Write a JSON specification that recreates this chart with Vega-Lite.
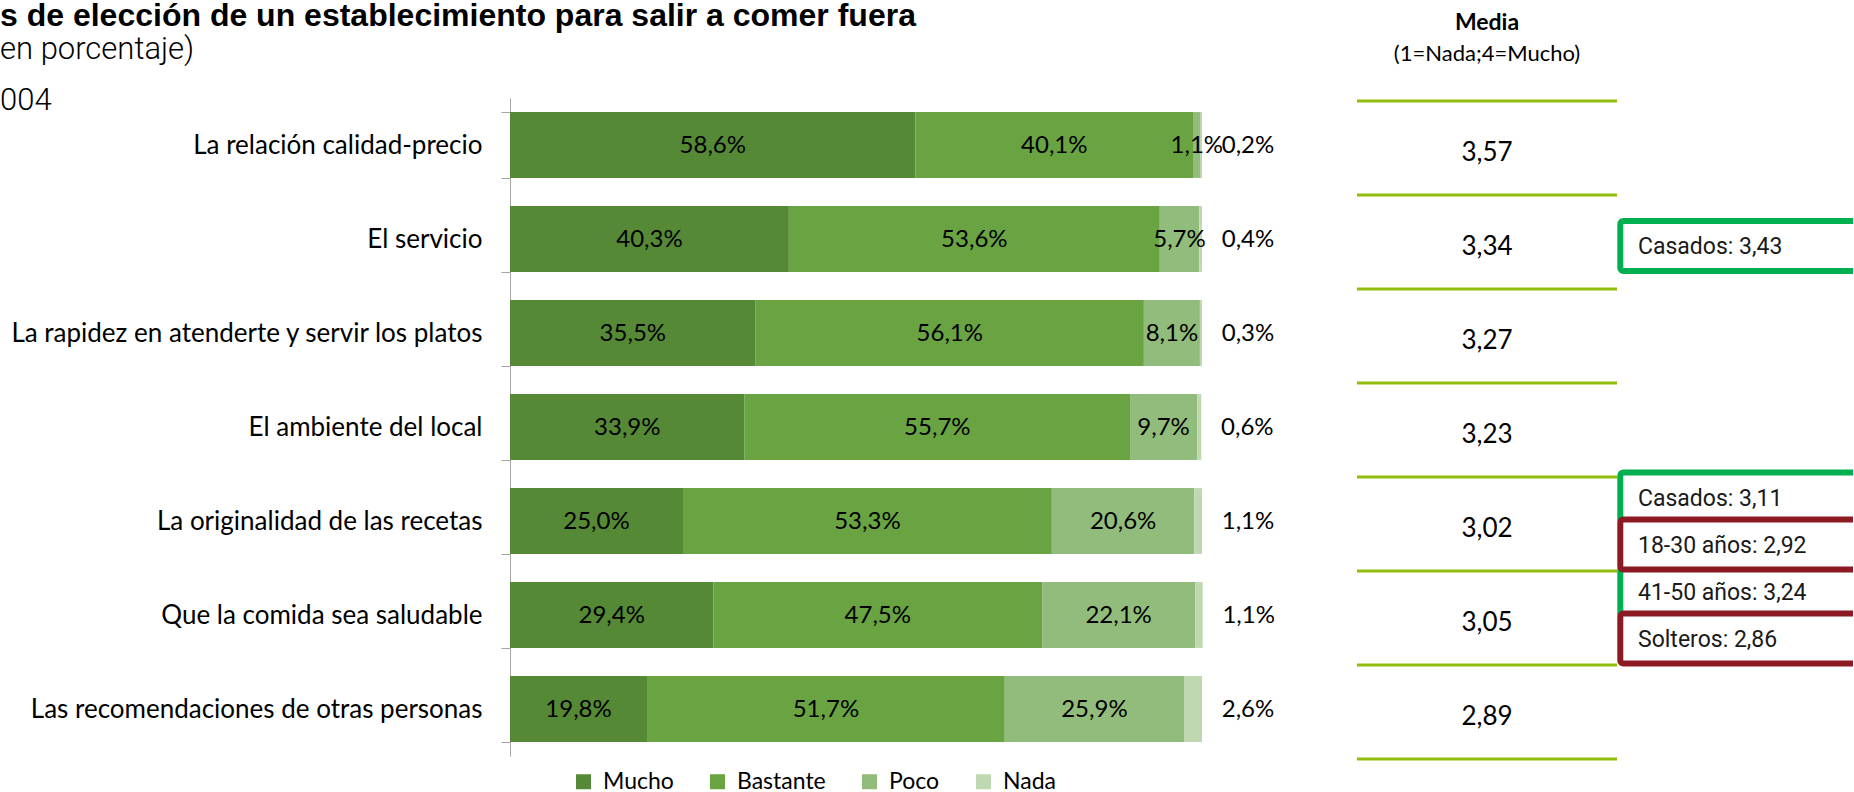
{
  "$schema": "https://vega.github.io/schema/vega-lite/v6.json",
  "padding": 0,
  "background": "white",
  "config": {
    "view": {"stroke": null},
    "font": "Lato",
    "locale": {"number": {"decimal": ",", "thousands": ".", "grouping": [3], "currency": ["", " €"]}}
  },
  "datasets": {
    "porcentajes": [
      {"factor": "La relación calidad-precio", "nivel": "Mucho", "pct": 0.586},
      {"factor": "La relación calidad-precio", "nivel": "Bastante", "pct": 0.401},
      {"factor": "La relación calidad-precio", "nivel": "Poco", "pct": 0.011},
      {"factor": "La relación calidad-precio", "nivel": "Nada", "pct": 0.002},
      {"factor": "El servicio", "nivel": "Mucho", "pct": 0.403},
      {"factor": "El servicio", "nivel": "Bastante", "pct": 0.536},
      {"factor": "El servicio", "nivel": "Poco", "pct": 0.057},
      {"factor": "El servicio", "nivel": "Nada", "pct": 0.004},
      {"factor": "La rapidez en atenderte y servir los platos", "nivel": "Mucho", "pct": 0.355},
      {"factor": "La rapidez en atenderte y servir los platos", "nivel": "Bastante", "pct": 0.561},
      {"factor": "La rapidez en atenderte y servir los platos", "nivel": "Poco", "pct": 0.081},
      {"factor": "La rapidez en atenderte y servir los platos", "nivel": "Nada", "pct": 0.003},
      {"factor": "El ambiente del local", "nivel": "Mucho", "pct": 0.339},
      {"factor": "El ambiente del local", "nivel": "Bastante", "pct": 0.557},
      {"factor": "El ambiente del local", "nivel": "Poco", "pct": 0.097},
      {"factor": "El ambiente del local", "nivel": "Nada", "pct": 0.006},
      {"factor": "La originalidad de las recetas", "nivel": "Mucho", "pct": 0.250},
      {"factor": "La originalidad de las recetas", "nivel": "Bastante", "pct": 0.533},
      {"factor": "La originalidad de las recetas", "nivel": "Poco", "pct": 0.206},
      {"factor": "La originalidad de las recetas", "nivel": "Nada", "pct": 0.011},
      {"factor": "Que la comida sea saludable", "nivel": "Mucho", "pct": 0.294},
      {"factor": "Que la comida sea saludable", "nivel": "Bastante", "pct": 0.475},
      {"factor": "Que la comida sea saludable", "nivel": "Poco", "pct": 0.221},
      {"factor": "Que la comida sea saludable", "nivel": "Nada", "pct": 0.011},
      {"factor": "Las recomendaciones de otras personas", "nivel": "Mucho", "pct": 0.198},
      {"factor": "Las recomendaciones de otras personas", "nivel": "Bastante", "pct": 0.517},
      {"factor": "Las recomendaciones de otras personas", "nivel": "Poco", "pct": 0.259},
      {"factor": "Las recomendaciones de otras personas", "nivel": "Nada", "pct": 0.026}
    ],
    "medias": [
      {"factor": "La relación calidad-precio", "media": 3.57},
      {"factor": "El servicio", "media": 3.34},
      {"factor": "La rapidez en atenderte y servir los platos", "media": 3.27},
      {"factor": "El ambiente del local", "media": 3.23},
      {"factor": "La originalidad de las recetas", "media": 3.02},
      {"factor": "Que la comida sea saludable", "media": 3.05},
      {"factor": "Las recomendaciones de otras personas", "media": 2.89}
    ],
    "notas": [
      {"factor": "El servicio", "texto": "Casados: 3,43", "comparacion": "superior"},
      {"factor": "La originalidad de las recetas", "texto": "Casados: 3,11", "comparacion": "superior"},
      {"factor": "Que la comida sea saludable", "texto": "41-50 años: 3,24", "comparacion": "superior"},
      {"factor": "La originalidad de las recetas", "texto": "18-30 años: 2,92", "comparacion": "inferior"},
      {"factor": "Que la comida sea saludable", "texto": "Solteros: 2,86", "comparacion": "inferior"}
    ]
  },
  "bounds": "flush",
  "spacing": 155,
  "hconcat": [
    {
      "width": 692,
      "height": 658,
      "title": {
        "text": "s de elección de un establecimiento para salir a comer fuera",
        "subtitle": ["en porcentaje)", "004"],
        "anchor": "start",
        "frame": "group",
        "dx": -510,
        "font": "Liberation Sans Narrow, Liberation Sans, Arial",
        "fontSize": 32,
        "fontWeight": "bold",
        "color": "#000000",
        "subtitleFont": "Roboto",
        "subtitleFontSize": 31,
        "subtitleFontWeight": 300,
        "subtitleColor": "#000000",
        "subtitleLineHeight": 51,
        "subtitlePadding": 2,
        "offset": -32
      },
      "data": {"name": "porcentajes"},
      "transform": [{"stack": "pct", "groupby": ["factor"], "as": ["x0", "x1"]}],
      "encoding": {
        "y": {
          "field": "factor",
          "type": "nominal",
          "sort": null,
          "scale": {
            "domain": ["La relación calidad-precio", "El servicio", "La rapidez en atenderte y servir los platos", "El ambiente del local", "La originalidad de las recetas", "Que la comida sea saludable", "Las recomendaciones de otras personas"],
            "paddingInner": 0.3,
            "paddingOuter": 0.15
          },
          "axis": {
            "title": null,
            "labelFont": "Lato",
            "labelFontSize": 26,
            "labelColor": "#000000",
            "labelPadding": 19,
            "labelLimit": 700,
            "tickBand": "extent",
            "tickSize": 9,
            "tickColor": "#a6a6a6",
            "domainColor": "#a6a6a6",
            "grid": false
          }
        }
      },
      "layer": [
        {
          "mark": {"type": "bar"},
          "encoding": {
            "x": {"field": "x0", "type": "quantitative", "scale": {"domain": [0, 1]}, "axis": null},
            "x2": {"field": "x1"},
            "color": {
              "field": "nivel",
              "type": "nominal",
              "scale": {"domain": ["Mucho", "Bastante", "Poco", "Nada"], "range": ["#558936", "#69a342", "#92bc7b", "#bfd8b1"]},
              "legend": {
                "orient": "none",
                "legendX": 62,
                "legendY": 672,
                "direction": "horizontal",
                "title": null,
                "symbolType": "square",
                "symbolSize": 225,
                "symbolStrokeWidth": 0,
                "labelFont": "Lato",
                "labelFontSize": 23,
                "labelColor": "#000000",
                "labelOffset": 8,
                "columnPadding": 32
              }
            }
          }
        },
        {
          "transform": [{"filter": "datum.nivel !== 'Nada'"}],
          "mark": {"type": "text", "font": "Lato", "fontSize": 24, "color": "#000000", "dy": 1},
          "encoding": {
            "x": {"field": "pct", "type": "quantitative", "stack": "zero", "bandPosition": 0.5, "scale": {"domain": [0, 1]}, "axis": null},
            "detail": {"field": "nivel", "type": "nominal"},
            "order": {"field": "x0", "type": "quantitative", "sort": "ascending"},
            "text": {"field": "pct", "type": "quantitative", "format": ".1%"}
          }
        },
        {
          "transform": [{"filter": "datum.nivel === 'Nada'"}],
          "mark": {"type": "text", "font": "Lato", "fontSize": 24, "color": "#000000", "dx": 46, "dy": 1},
          "encoding": {
            "x": {"field": "x1", "type": "quantitative", "scale": {"domain": [0, 1]}, "axis": null},
            "text": {"field": "pct", "type": "quantitative", "format": ".1%"}
          }
        }
      ]
    },
    {
      "bounds": "flush",
      "spacing": 0,
      "hconcat": [
        {
          "width": 260,
          "height": 658,
          "title": {
            "text": "Media",
            "subtitle": "(1=Nada;4=Mucho)",
            "anchor": "middle",
            "frame": "group",
            "font": "Lato",
            "fontSize": 23,
            "fontWeight": "bold",
            "color": "#000000",
            "subtitleFont": "Lato",
            "subtitleFontSize": 22,
            "subtitleColor": "#000000",
            "subtitlePadding": 9,
            "offset": 33
          },
          "data": {"name": "medias"},
          "layer": [
            {
              "mark": {"type": "rule", "color": "#8fbc0f", "strokeWidth": 3},
              "encoding": {
                "y": {
                  "field": "factor", "type": "nominal", "sort": null, "bandPosition": 0,
                  "scale": {
                    "domain": ["La relación calidad-precio", "El servicio", "La rapidez en atenderte y servir los platos", "El ambiente del local", "La originalidad de las recetas", "Que la comida sea saludable", "Las recomendaciones de otras personas"],
                    "paddingInner": 0, "paddingOuter": 0,
                    "range": [3, 661]
                  },
                  "axis": null
                }
              }
            },
            {
              "transform": [{"filter": "datum.factor === 'Las recomendaciones de otras personas'"}],
              "mark": {"type": "rule", "color": "#8fbc0f", "strokeWidth": 3},
              "encoding": {
                "y": {"field": "factor", "type": "nominal", "sort": null, "bandPosition": 1, "axis": null}
              }
            },
            {
              "mark": {"type": "text", "font": "Lato", "fontSize": 26, "color": "#000000", "dy": 5},
              "encoding": {
                "y": {"field": "factor", "type": "nominal", "sort": null, "axis": null},
                "text": {"field": "media", "type": "quantitative", "format": ".2f"}
              }
            }
          ]
        },
        {
          "width": 236,
          "height": 658,
          "data": {"name": "notas"},
          "resolve": {"scale": {"y": "independent"}},
          "layer": [
            {
              "transform": [{"filter": "datum.factor !== 'El servicio'"}],
              "layer": [
                {
                  "mark": {"type": "bar", "height": 50, "fill": "white", "strokeWidth": 6, "cornerRadius": 3, "clip": true},
                  "encoding": {
                    "y": {
                      "field": "factor", "type": "nominal", "sort": null,
                      "scale": {
                        "domain": ["La relación calidad-precio", "El servicio", "La rapidez en atenderte y servir los platos", "El ambiente del local", "La originalidad de las recetas", "Que la comida sea saludable", "Las recomendaciones de otras personas"],
                        "paddingInner": 0, "paddingOuter": 0
                      },
                      "axis": null
                    },
                    "yOffset": {"field": "comparacion", "type": "nominal", "scale": {"domain": ["superior", "inferior"], "paddingInner": 0, "paddingOuter": 0}},
                    "x": {"datum": 0.014, "type": "quantitative", "scale": {"domain": [0, 1]}, "axis": null},
                    "x2": {"datum": 1.5},
                    "stroke": {"field": "comparacion", "type": "nominal", "scale": {"domain": ["superior", "inferior"], "range": ["#00b050", "#8c1a22"]}, "legend": null}
                  }
                },
                {
                  "mark": {"type": "text", "align": "left", "font": "Roboto", "fontSize": 23, "color": "#1a1a1a", "dx": 21, "dy": 1},
                  "encoding": {
                    "y": {"field": "factor", "type": "nominal", "sort": null, "axis": null},
                    "yOffset": {"field": "comparacion", "type": "nominal", "scale": {"domain": ["superior", "inferior"], "paddingInner": 0, "paddingOuter": 0}},
                    "x": {"datum": 0, "type": "quantitative", "scale": {"domain": [0, 1]}, "axis": null},
                    "text": {"field": "texto", "type": "nominal"}
                  }
                }
              ]
            },
            {
              "transform": [{"filter": "datum.factor === 'El servicio'"}],
              "layer": [
                {
                  "mark": {"type": "bar", "height": 50, "fill": "white", "strokeWidth": 6, "cornerRadius": 3, "clip": true},
                  "encoding": {
                    "y": {
                      "field": "factor", "type": "nominal", "sort": null,
                      "scale": {
                        "domain": ["La relación calidad-precio", "El servicio", "La rapidez en atenderte y servir los platos", "El ambiente del local", "La originalidad de las recetas", "Que la comida sea saludable", "Las recomendaciones de otras personas"],
                        "paddingInner": 0, "paddingOuter": 0,
                        "range": [7, 665]
                      },
                      "axis": null
                    },
                    "x": {"datum": 0.014, "type": "quantitative", "scale": {"domain": [0, 1]}, "axis": null},
                    "x2": {"datum": 1.5},
                    "stroke": {"field": "comparacion", "type": "nominal", "legend": null}
                  }
                },
                {
                  "mark": {"type": "text", "align": "left", "font": "Roboto", "fontSize": 23, "color": "#1a1a1a", "dx": 21, "dy": 1},
                  "encoding": {
                    "y": {"field": "factor", "type": "nominal", "sort": null, "axis": null},
                    "x": {"datum": 0, "type": "quantitative", "scale": {"domain": [0, 1]}, "axis": null},
                    "text": {"field": "texto", "type": "nominal"}
                  }
                }
              ]
            }
          ]
        }
      ]
    }
  ]
}
